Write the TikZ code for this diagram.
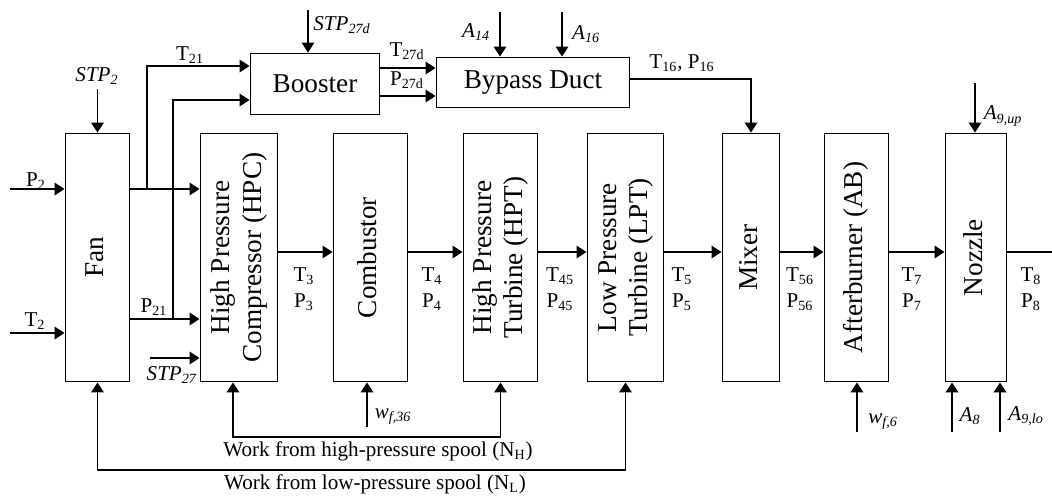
\documentclass[tikz,border=0pt]{standalone}
\usepackage{fontspec}
\setmainfont{Liberation Serif}
\usetikzlibrary{arrows.meta,calc,positioning}
\newcommand{\isub}[2]{\textit{#1}\textsubscript{\textit{#2}}}
\newcommand{\vtext}[1]{\rotatebox{90}{\begin{tabular}{@{}c@{}}#1\end{tabular}}}

\begin{document}
\begin{tikzpicture}[
  x={(0.02cm,0cm)},
  y={(0cm,-0.02cm)},
  >={Triangle[length=0.2cm,width=0.25cm]},
  line width=1.1pt,
  font=\fontsize{12}{14.7}\selectfont,
  stage/.style={draw, minimum height=4.96cm, inner sep=0pt, font=\fontsize{15.5}{18}\selectfont},
  duct/.style={draw, inner sep=0pt, font=\fontsize{15.5}{18}\selectfont},
  flow/.style={->},
  lbl/.style={inner sep=0pt, align=center}
]
  \useasboundingbox (0,0) rectangle (1052,495);

  \def\ymid{257.5}
  \def\yflow{252}
  \def\yhp{437}
  \def\ylp{470}

  % Engine stages, left to right
  \node[stage, minimum width=1.28cm] (fan)    at (97.5,\ymid)  {\vtext{Fan}};
  \node[stage, minimum width=1.54cm] (hpc)    at (239,\ymid)   {\vtext{High Pressure\\Compressor (HPC)}};
  \node[stage, minimum width=1.48cm] (comb)   at (370.5,\ymid) {\vtext{Combustor}};
  \node[stage, minimum width=1.48cm] (hpt)    at (500.5,\ymid) {\vtext{High Pressure\\Turbine (HPT)}};
  \node[stage, minimum width=1.52cm] (lpt)    at (625.5,\ymid) {\vtext{Low Pressure\\Turbine (LPT)}};
  \node[stage, minimum width=1.14cm] (mixer)  at (751,\ymid)   {\vtext{Mixer}};
  \node[stage, minimum width=1.28cm] (ab)     at (856.5,\ymid) {\vtext{Afterburner (AB)}};
  \node[stage, minimum width=1.22cm] (nozzle) at (976,\ymid)   {\vtext{Nozzle}};

  % Bypass branch
  \node[duct, minimum width=2.58cm, minimum height=1.22cm] (booster) at (315,84)  {Booster};
  \node[duct, minimum width=3.86cm, minimum height=1.0cm]  (bypass)  at (533,82.5) {Bypass Duct};

  % Fan inlet
  \coordinate (p2in)   at (10,189);
  \coordinate (t2in)   at (10,333);
  \coordinate (stp2in) at (97.5,89);
  \draw[flow] (p2in) -- (p2in -| fan.west);
  \draw[flow] (t2in) -- (t2in -| fan.west);
  \draw[flow] (stp2in) -- (fan.north);
  \node[lbl] at (36,181) {P\textsubscript{2}};
  \node[lbl] at (35,321) {T\textsubscript{2}};
  \node[lbl] at (97,76) {\isub{STP}{2}};

  % Fan to HPC, with taps to the booster
  \draw[flow] (fan.east |- p2in) -- (hpc.west |- p2in);
  \draw[flow] (fan.east |- 0,319) -- (hpc.west |- 0,319);
  \draw[flow] (147,189) |- (booster.west |- 0,66);
  \draw[flow] (173,319) |- (booster.west |- 0,100);
  \node[lbl] at (190,55) {T\textsubscript{21}};
  \node[lbl] at (154,307) {P\textsubscript{21}};
  \coordinate (stp27in) at (150,358);
  \draw[flow] (stp27in) -- (stp27in -| hpc.west);
  \node[lbl] at (172,375) {\isub{STP}{27}};

  % Booster and bypass duct
  \coordinate (stp27din) at (308,10);
  \draw[flow] (stp27din) -- (stp27din |- booster.north);
  \node[lbl] at (342,25) {\isub{STP}{27d}};
  \draw[flow] (booster.east |- 0,68) -- (bypass.west |- 0,68);
  \draw[flow] (booster.east |- 0,96) -- (bypass.west |- 0,96);
  \node[lbl] at (407,51) {T\textsubscript{27d}};
  \node[lbl] at (407,80) {P\textsubscript{27d}};
  \coordinate (a14in) at (500,12);
  \coordinate (a16in) at (562,12);
  \draw[flow] (a14in) -- (a14in |- bypass.north);
  \draw[flow] (a16in) -- (a16in |- bypass.north);
  \node[lbl] at (476,32) {\isub{A}{14}};
  \node[lbl] at (586,34) {\isub{A}{16}};
  \draw[flow] (bypass.east |- 0,79) -| (mixer.north);
  \node[lbl] at (682,63) {T\textsubscript{16}, P\textsubscript{16}};

  % Core flow
  \foreach \a/\b in {hpc/comb, comb/hpt, hpt/lpt, lpt/mixer, mixer/ab, ab/nozzle}
    \draw[flow] (\a.east |- 0,\yflow) -- (\b.west |- 0,\yflow);
  \coordinate (exit) at (1052,\yflow);
  \draw (nozzle.east |- exit) -- (exit);
  \foreach \x/\s in {304/3, 432/4, 560/45, 682/5, 800/56, 912/7, 1031/8}
    \node[lbl] (st\s) at (\x,289) {T\textsubscript{\s}\\P\textsubscript{\s}};

  % Fuel and area inputs
  \coordinate (wf36in) at (367,427);
  \coordinate (wf6in)  at (857,432);
  \coordinate (a8in)   at (952,432);
  \coordinate (a9loin) at (1000,432);
  \coordinate (a9upin) at (975,83);
  \draw[flow] (wf36in) -- (wf36in |- comb.south);
  \draw[flow] (wf6in) -- (wf6in |- ab.south);
  \draw[flow] (a8in) -- (a8in |- nozzle.south);
  \draw[flow] (a9loin) -- (a9loin |- nozzle.south);
  \draw[flow] (a9upin) -- (a9upin |- nozzle.north);
  \node[lbl] at (393,417) {\isub{w}{f,36}};
  \node[lbl] at (883,422) {\isub{w}{f,6}};
  \node[lbl] at (970,416) {\isub{A}{8}};
  \node[lbl] at (1026,416) {\isub{A}{9,lo}};
  \node[lbl] at (1003,116) {\isub{A}{9,up}};

  % Spools
  \draw[<->] (hpc.south -| 233,0) |- (hpt.south |- 0,\yhp) -- (hpt.south);
  \draw[<->] (fan.south) |- (lpt.south |- 0,\ylp) -- (lpt.south);
  \node[lbl] at (378,451) {Work from high-pressure spool (N\textsubscript{H})};
  \node[lbl] at (375,484) {Work from low-pressure spool (N\textsubscript{L})};
\end{tikzpicture}
\end{document}
